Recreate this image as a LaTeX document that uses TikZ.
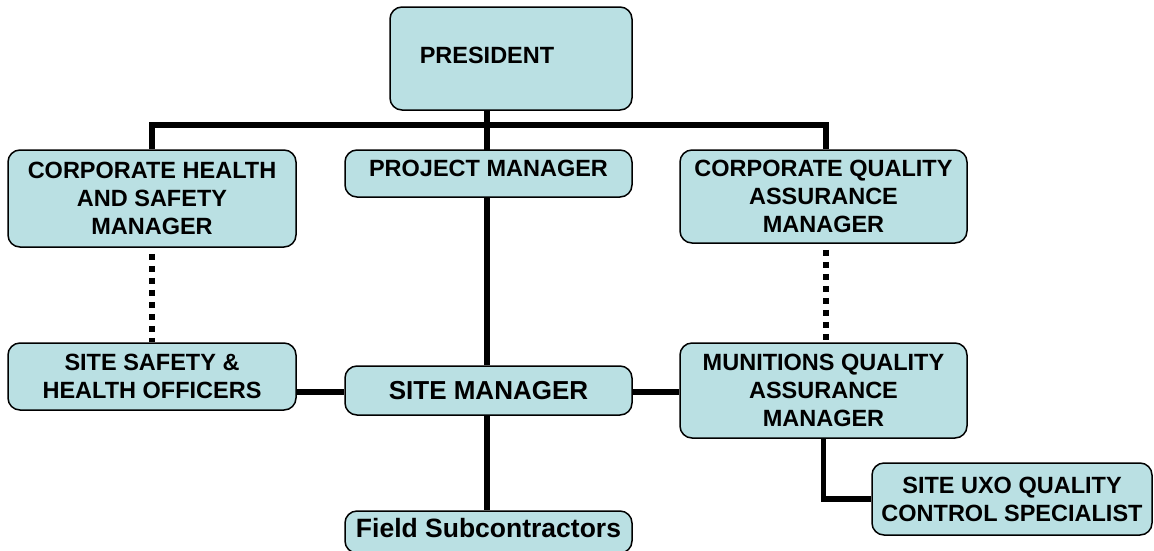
\documentclass[tikz,border=0pt]{standalone}
\usepackage{fontspec}
\setmainfont{Liberation Sans}
\usetikzlibrary{backgrounds}
\definecolor{boxfill}{HTML}{BAE0E3}
\tikzset{
  box/.style={draw=black, line width=1.5pt, fill=boxfill, rounded corners=12pt,
    align=center, inner sep=0pt, font=\fontsize{23.5}{28}\selectfont\bfseries},
  conn/.style={line width=5.5pt, black},
  dotconn/.style={line width=6pt, black, dash pattern=on 6pt off 6pt}
}
\begin{document}
\begin{tikzpicture}[x=1pt,y=-1pt]
\useasboundingbox (0,0) rectangle (1154,550);
\node[box, minimum width=242pt, minimum height=103pt, text depth=6pt] (pres) at (511,58.5) {PRESIDENT\hspace*{48pt}};
\node[box, minimum width=288pt, minimum height=97pt] (chs) at (152,198.5) {CORPORATE HEALTH\\AND SAFETY\\MANAGER};
\node[box, minimum width=287pt, minimum height=47pt, text depth=10pt] (pm) at (488.5,173.5) {PROJECT MANAGER};
\node[box, minimum width=287pt, minimum height=93pt] (cqa) at (823.5,196.5) {CORPORATE QUALITY\\ASSURANCE\\MANAGER};
\node[box, minimum width=288pt, minimum height=67pt] (ssho) at (152,376.5) {SITE SAFETY \&\\HEALTH OFFICERS};
\node[box, minimum width=287pt, minimum height=49pt, font=\fontsize{26}{30}\selectfont\bfseries] (sm) at (488.5,390.5) {SITE MANAGER};
\node[box, minimum width=287pt, minimum height=95pt] (mqa) at (823.5,390.5) {MUNITIONS QUALITY\\ASSURANCE\\MANAGER};
\node[box, minimum width=287pt, minimum height=42pt, text depth=8pt, font=\fontsize{26.5}{30}\selectfont\bfseries] (fs) at (488.5,532) {Field Subcontractors};
\node[box, minimum width=280pt, minimum height=72pt] (uxo) at (1012,499) {SITE UXO QUALITY\\CONTROL SPECIALIST};
\coordinate (barL) at (152,125);
\coordinate (barR) at (826,125);
\coordinate (barM) at (487,125);
\begin{pgfonlayer}{background}
\draw[conn] ([xshift=-2.75pt]barL) -- ([xshift=2.75pt]barR);
\draw[conn] (barL) -- (barL |- chs.north);
\draw[conn] (barR) -- (barR |- cqa.north);
\draw[conn] (barM |- pres.south) -- (barM |- sm.north);
\draw[conn] (barM |- sm.south) -- (barM |- fs.north);
\draw[conn] (ssho.east |- 0,392) -- (sm.west |- 0,392);
\draw[conn] (sm.east |- 0,392) -- (mqa.west |- 0,392);
\draw[conn] (mqa.south) |- (uxo.west);
\draw[dotconn] ([yshift=6pt]chs.south) -- (ssho.north);
\draw[dotconn] ([yshift=6pt]cqa.south -| barR) -- (barR |- mqa.north);
\end{pgfonlayer}
\end{tikzpicture}
\end{document}
